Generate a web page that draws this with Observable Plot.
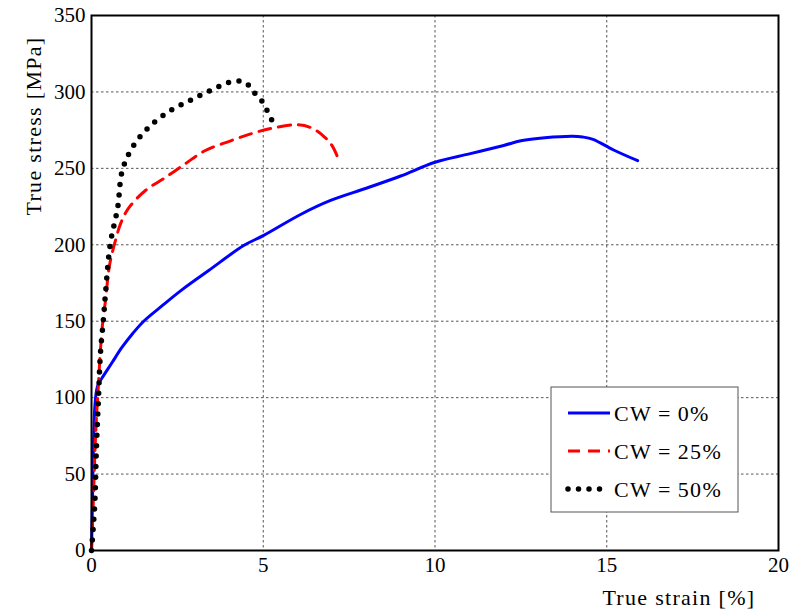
<!DOCTYPE html>
<html>
<head>
<meta charset="utf-8">
<script src="https://cdn.jsdelivr.net/npm/d3@7"></script>
<script src="https://cdn.jsdelivr.net/npm/@observablehq/plot@0.6"></script>
<style>
  html, body { margin: 0; padding: 0; background: #fff; }
  #wrap { position: relative; width: 790px; height: 610px; }
  #legend { position: absolute; left: 0; top: 0; }
</style>
</head>
<body>
<div id="wrap"></div>
<script>
// Data (true strain %, true stress MPa)
const seriesNames = ["CW = 0%", "CW = 25%", "CW = 50%"];
const seriesColors = ["#0000ff", "#ff0000", "#000000"];

const cw0Strain = [0, 0.03, 0.06, 0.1, 0.15, 0.2, 0.31, 0.6, 0.89, 1.2, 1.52, 2.05, 2.63, 3.4, 4.43, 5.0, 6.1, 6.96, 8.0, 9.0, 10.0, 11.0, 12.0, 12.5, 13.2, 14.0, 14.3, 14.6, 15.2, 15.9];
const cw0Stress = [0, 35, 72, 95, 105, 109, 113, 123, 133, 142, 150, 160, 170.5, 183, 199.5, 206, 220, 229, 237, 245, 254, 259.5, 265, 268, 270, 271, 270.5, 269, 262, 255];

const cw25Strain = [0, 0.05, 0.12, 0.2, 0.26, 0.33, 0.41, 0.52, 0.7, 0.85, 1.08, 1.57, 2.15, 2.73, 3.3, 4.05, 4.7, 5.3, 6.0, 6.4, 6.76, 7.0, 7.17];
const cw25Stress = [0, 30, 76, 108, 131, 150, 164, 186, 203, 214, 224, 235.5, 244, 253, 261.5, 268, 273, 276.5, 278.5, 276.5, 271, 265, 257];

const cw50Strain = [0, 0.05, 0.1, 0.14, 0.2, 0.26, 0.35, 0.41, 0.55, 0.76, 0.9, 1.2, 1.63, 2.2, 2.83, 3.47, 4.14, 4.49, 4.72, 4.96, 5.13, 5.28];
const cw50Stress = [0, 15, 33, 65, 98, 129, 152, 169, 201, 224, 249, 264, 276, 286.5, 294, 301, 307, 306, 300, 294, 287, 280];

const xTicks = [0, 5, 10, 15, 20];
const yTicks = [0, 50, 100, 150, 200, 250, 300, 350];

const toRows = (xs, ys, s) => xs.map((x, i) => ({strain: x, stress: ys[i], series: s}));
const cw0 = toRows(cw0Strain, cw0Stress, seriesNames[0]);
const cw25 = toRows(cw25Strain, cw25Stress, seriesNames[1]);
const cw50 = toRows(cw50Strain, cw50Stress, seriesNames[2]);

const FONT = "'Liberation Serif', 'Times New Roman', serif";

const chart = Plot.plot({
  width: 790,
  height: 610,
  marginLeft: 91,
  marginRight: 12,
  marginTop: 15,
  marginBottom: 60,
  style: {fontFamily: FONT, fontSize: "21px", color: "#000", background: "#fff"},
  x: {domain: [0, 20], ticks: xTicks},
  y: {domain: [0, 350], ticks: yTicks},
  marks: [
    Plot.gridX(xTicks, {stroke: "#555", strokeOpacity: 1, strokeWidth: 1, strokeDasharray: "2.5,2.5"}),
    Plot.gridY(yTicks, {stroke: "#555", strokeOpacity: 1, strokeWidth: 1, strokeDasharray: "2.5,2.5"}),
    Plot.axisX(xTicks, {tickSize: 0, tickPadding: 7, label: null, fontSize: 21}),
    Plot.axisY(yTicks, {tickSize: 0, tickPadding: 6, label: null, fontSize: 21}),
    Plot.line(cw0, {x: "strain", y: "stress", stroke: seriesColors[0], strokeWidth: 3, curve: "catmull-rom"}),
    Plot.line(cw25, {x: "strain", y: "stress", stroke: seriesColors[1], strokeWidth: 3, strokeDasharray: "12,8", curve: "catmull-rom"}),
    Plot.line(cw50, {x: "strain", y: "stress", stroke: seriesColors[2], strokeWidth: 5.5, strokeDasharray: "0,10.5", strokeLinecap: "round", curve: "catmull-rom"}),
    Plot.frame({stroke: "#000", strokeWidth: 2}),
    Plot.text(["True strain [%]"], {frameAnchor: "bottom-right", dx: -23, dy: 54, textAnchor: "end", fontSize: 22}),
    Plot.text(["True stress [MPa]"], {frameAnchor: "top-left", dx: -66, dy: 21, rotate: -90, textAnchor: "end", fontSize: 22})
  ]
});

// letter spacing for axis titles (LaTeX-like wide face)
d3.select(chart).selectAll("text").filter(function() {
  const t = this.textContent; return t === "True strain [%]" || t === "True stress [MPa]";
}).style("letter-spacing", "1.3px");

document.getElementById("wrap").appendChild(chart);

// Legend overlay
const leg = d3.select("#wrap").append("svg")
  .attr("id", "legend").attr("width", 790).attr("height", 610)
  .style("font-family", FONT).style("font-size", "22px");
leg.append("rect").attr("x", 551).attr("y", 387).attr("width", 187).attr("height", 125)
  .attr("fill", "#fff").attr("stroke", "#555").attr("stroke-width", 1);
const dashes = [null, "12,8", "0,10.5"];
const widths = [3, 3, 5.5];
seriesNames.forEach((name, i) => {
  const cy = 413 + i * 38;
  leg.append("line").attr("x1", 568).attr("x2", 610).attr("y1", cy).attr("y2", cy)
    .attr("stroke", seriesColors[i]).attr("stroke-width", widths[i])
    .attr("stroke-dasharray", dashes[i]).attr("stroke-linecap", i === 2 ? "round" : "butt");
  leg.append("text").attr("x", 614).attr("y", cy).attr("dy", "0.35em")
    .style("letter-spacing", "1.4px").attr("xml:space", "preserve").text(name.replace(/ = /, "\u2009=\u2009"));
});
</script>
</body>
</html>
